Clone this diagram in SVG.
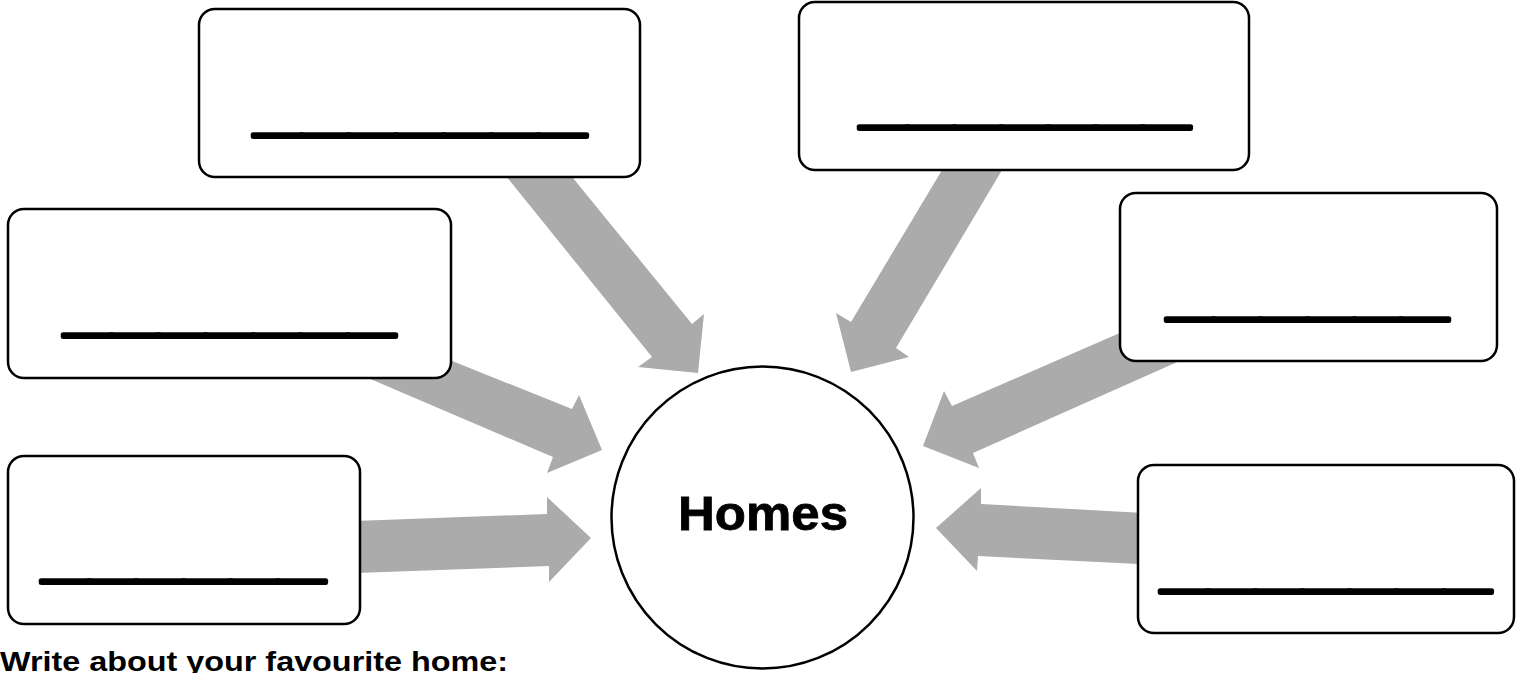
<svg xmlns="http://www.w3.org/2000/svg" width="1523" height="673" viewBox="0 0 1523 673">
<style>
.box{fill:#fff;stroke:#000;stroke-width:2.5}
.arr{fill:#ababab;stroke:none}
.ul{font-family:"Liberation Sans",Arial,sans-serif;font-weight:bold;font-size:70px;fill:#000;stroke:#000;stroke-width:4;stroke-linejoin:round}
.title{font-family:"Liberation Sans",Arial,sans-serif;font-weight:bold;fill:#000}
</style>
<rect width="1523" height="673" fill="#fff"/>
<g id="connectors">
<polygon class="arr" points="477,140 652,357 638,367 698,373 704,314 692,324 542,140"/>
<polygon class="arr" points="380,332 572,409 579,395 602,450 547,473 553,457 340,366"/>
<polygon class="arr" points="300,523 547,514 547,497 591,538 549,582 549,566 300,575"/>
<polygon class="arr" points="960,140 851,322 836,313 851,372 909,357 896,348 1020,140"/>
<polygon class="arr" points="1200,298 952,406 944,391 923,446 979,468 973,453 1220,343"/>
<polygon class="arr" points="1180,515 981,504 981,488 936,528 977,571 978,556 1180,566"/>
</g>
<g id="box-top-left">
<rect class="box" x="199" y="9" width="441" height="168" rx="16"/>
<text class="ul" x="254" y="128" textLength="332" lengthAdjust="spacingAndGlyphs">_______</text>
</g>
<g id="box-top-right">
<rect class="box" x="799" y="2" width="450" height="168" rx="16"/>
<text class="ul" x="860" y="120" textLength="330" lengthAdjust="spacingAndGlyphs">_______</text>
</g>
<g id="box-mid-left">
<rect class="box" x="8" y="209" width="443" height="169" rx="16"/>
<text class="ul" x="64" y="328" textLength="331" lengthAdjust="spacingAndGlyphs">_______</text>
</g>
<g id="box-mid-right">
<rect class="box" x="1120" y="193" width="377" height="168" rx="16"/>
<text class="ul" x="1167" y="312" textLength="281" lengthAdjust="spacingAndGlyphs">______</text>
</g>
<g id="box-bottom-left">
<rect class="box" x="8" y="456" width="352" height="168" rx="16"/>
<text class="ul" x="42" y="574" textLength="283" lengthAdjust="spacingAndGlyphs">______</text>
</g>
<g id="box-bottom-right">
<rect class="box" x="1138" y="465" width="376" height="168" rx="16"/>
<text class="ul" x="1161" y="584" textLength="330" lengthAdjust="spacingAndGlyphs">_______</text>
</g>
<g id="center">
<circle cx="762.5" cy="517.5" r="151" fill="#fff" stroke="#000" stroke-width="2.5"/>
<text class="title" x="678" y="530" font-size="49" textLength="170" lengthAdjust="spacingAndGlyphs" stroke="#000" stroke-width="0.8">Homes</text>
</g>
<g id="caption">
<text class="title" x="0" y="671" font-size="28" textLength="508" lengthAdjust="spacingAndGlyphs">Write about your favourite home:</text>
</g>
</svg>
